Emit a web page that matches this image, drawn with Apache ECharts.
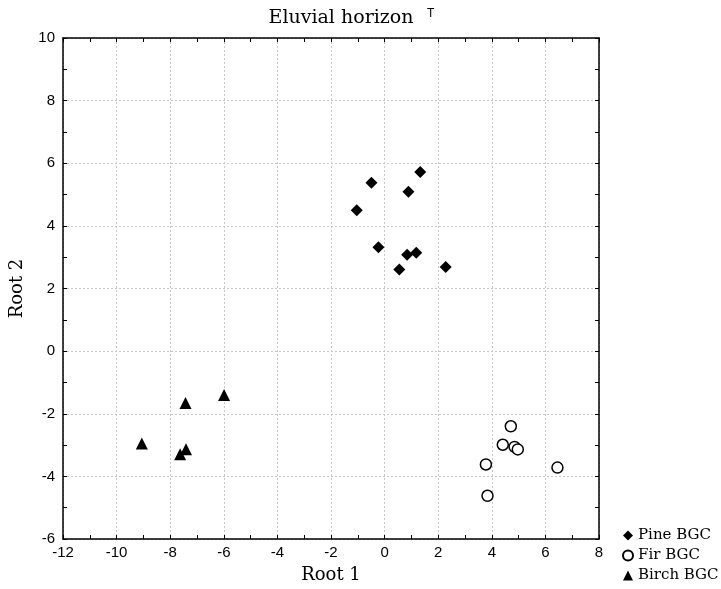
<!DOCTYPE html>
<html>
<head>
<meta charset="utf-8">
<script src="https://cdn.jsdelivr.net/npm/echarts@6/dist/echarts.min.js"></script>
<style>
  html, body { margin: 0; padding: 0; background: #fff; }
  #main { width: 721px; height: 589px; }
</style>
</head>
<body>
<div id="main"></div>
<script>
// discriminant scores: [root1, root2]
var pine = [
    [-0.49, 5.38], [1.33, 5.72], [0.89, 5.09], [-1.04, 4.50], [-0.23, 3.32],
    [0.84, 3.08], [1.18, 3.14], [0.55, 2.61], [2.28, 2.69]
];
var fir = [
    [4.71, -2.40], [4.41, -2.99], [4.85, -3.06], [4.97, -3.14],
    [3.78, -3.62], [6.45, -3.72], [3.84, -4.62]
];
var birch = [
    [-7.43, -1.66], [-5.99, -1.40], [-7.41, -3.13], [-7.63, -3.29], [-9.06, -2.95]
];
var groups = ['Pine BGC', 'Fir BGC', 'Birch BGC'];

var serif = 'DejaVu Serif';
var sans = 'Liberation Sans';

var chart = echarts.init(document.getElementById('main'));

var tickStyle = { show: true, inside: true, length: 4, lineStyle: { color: '#000', width: 1 } };
var minorStyle = { show: true, splitNumber: 2, length: 4, lineStyle: { color: '#000', width: 1 } };
var gridLine = { show: true, lineStyle: { color: '#c8c8c8', type: [2, 2], width: 1 } };

var option = {
    animation: false,
    title: {
        text: 'Eluvial horizon',
        left: 336, top: 4, textAlign: 'center',
        textStyle: { fontFamily: serif, fontSize: 19, fontWeight: 'normal', color: '#000' }
    },
    graphic: [{
        type: 'text', left: 427, top: 8,
        style: { text: 'T', fontFamily: sans, fontSize: 12, fill: '#000' }
    }],
    grid: { left: 62, right: 122, top: 38, bottom: 43 },
    legend: {
        orient: 'vertical',
        left: 617, top: 523,
        itemWidth: 10, itemHeight: 10, itemGap: 5,
        data: groups,
        textStyle: { fontFamily: serif, fontSize: 15, color: '#000' }
    },
    xAxis: [{
        type: 'value', min: -12, max: 8, interval: 2,
        name: 'Root 1', nameLocation: 'middle', nameGap: 27,
        nameTextStyle: { fontFamily: serif, fontSize: 18, color: '#000' },
        axisLine: { show: true, onZero: false, lineStyle: { color: '#000', width: 1.5 } },
        axisTick: tickStyle, minorTick: minorStyle,
        axisLabel: { fontFamily: sans, fontSize: 15, color: '#000', margin: 6 },
        splitLine: gridLine
    }, {
        type: 'value', position: 'top', min: -12, max: 8, interval: 1,
        axisLine: { show: true, onZero: false, lineStyle: { color: '#000', width: 1.5 } },
        axisTick: tickStyle, axisLabel: { show: false }, splitLine: { show: false }
    }],
    yAxis: [{
        type: 'value', min: -6, max: 10, interval: 2,
        name: 'Root 2', nameLocation: 'middle', nameGap: 37,
        nameTextStyle: { fontFamily: serif, fontSize: 18, color: '#000' },
        axisLine: { show: true, onZero: false, lineStyle: { color: '#000', width: 1.5 } },
        axisTick: tickStyle, minorTick: minorStyle,
        axisLabel: { fontFamily: sans, fontSize: 15, color: '#000', margin: 8 },
        splitLine: gridLine
    }, {
        type: 'value', position: 'right', min: -6, max: 10, interval: 1,
        axisLine: { show: true, onZero: false, lineStyle: { color: '#000', width: 1.5 } },
        axisTick: tickStyle, axisLabel: { show: false }, splitLine: { show: false }
    }],
    series: [{
        name: groups[0], type: 'scatter', data: pine,
        symbol: 'diamond', symbolSize: 12,
        itemStyle: { color: '#000', opacity: 1 }
    }, {
        name: groups[1], type: 'scatter', data: fir,
        symbol: 'circle', symbolSize: 11,
        itemStyle: { color: '#fff', borderColor: '#000', borderWidth: 1.5, opacity: 1 }
    }, {
        name: groups[2], type: 'scatter', data: birch,
        symbol: 'triangle', symbolSize: 12,
        itemStyle: { color: '#000', opacity: 1 }
    }]
};
chart.setOption(option);
</script>
</body>
</html>
